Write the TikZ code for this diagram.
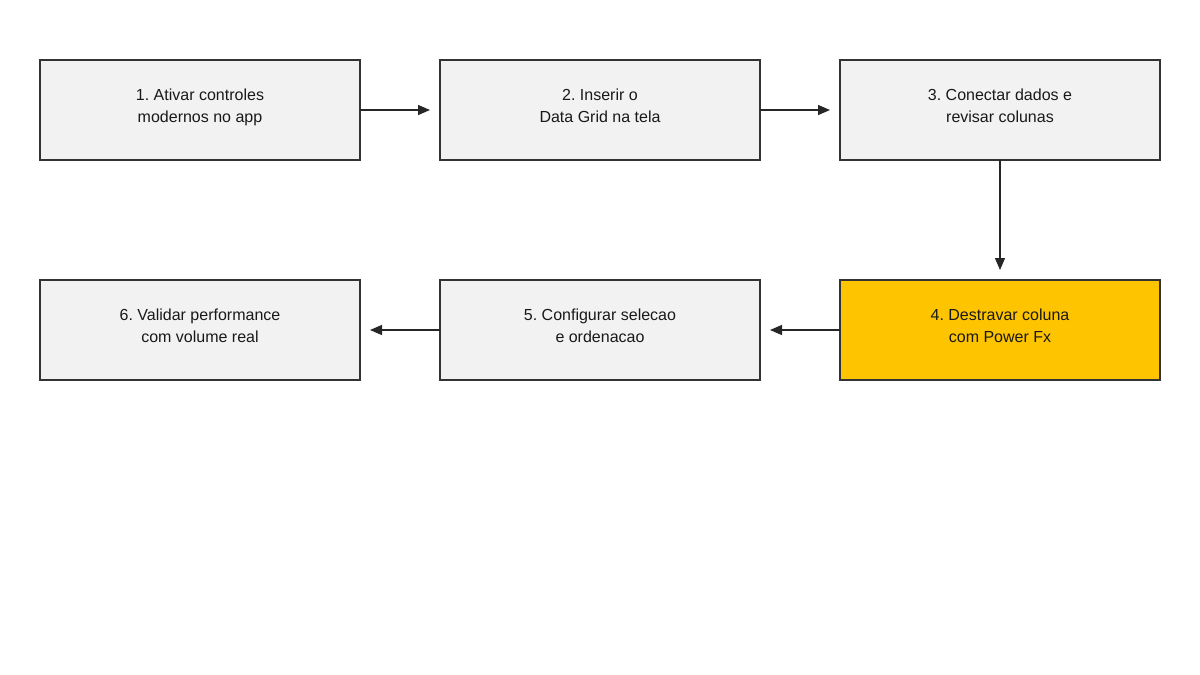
\documentclass[tikz,border=0pt]{standalone}
\usepackage{fontspec}
\setmainfont{Liberation Sans}
\usepackage{tikz}
\usetikzlibrary{positioning,arrows.meta}
\definecolor{boxgray}{HTML}{F2F2F2}
\definecolor{boxyellow}{HTML}{FFC400}
\definecolor{edgegray}{HTML}{333333}
\frenchspacing
\newcommand{\steptext}[2]{\raisebox{-1pt}[0pt][0pt]{\begin{tabular}{@{}c@{}}#1\\#2\end{tabular}}}
\tikzset{
	stepbox/.style={draw=edgegray, line width=1.3pt, fill=boxgray, minimum width=320pt, minimum height=100pt, align=center, font=\fontsize{16}{22}\selectfont, text=black!90, inner sep=0pt, outer sep=0pt},
	hotbox/.style={stepbox, fill=boxyellow},
	flow/.style={-{Triangle[length=12pt,width=10pt]}, line width=1.3pt, draw=black!85, shorten >=10pt}
}
\begin{document}
\begin{tikzpicture}[x=1pt,y=1pt, node distance=80pt]
		\useasboundingbox (0,0) rectangle (1200,-675);
		\coordinate (START) at (200,-110);

		\node[stepbox] (s1) at (START) {\steptext{1. Ativar controles}{modernos no app}};
		\node[stepbox, right=of s1] (s2) {\steptext{2. Inserir o}{Data Grid na tela}};
		\node[stepbox, right=of s2] (s3) {\steptext{3. Conectar dados e}{revisar colunas}};
		\node[hotbox, below=120pt of s3] (s4) {\steptext{4. Destravar coluna}{com Power Fx}};
		\node[stepbox, left=of s4] (s5) {\steptext{5. Configurar selecao}{e ordenacao}};
		\node[stepbox, left=of s5] (s6) {\steptext{6. Validar performance}{com volume real}};

		\draw[flow] (s1) -- (s2);
		\draw[flow] (s2) -- (s3);
		\draw[flow] (s3) -- (s4);
		\draw[flow] (s4) -- (s5);
		\draw[flow] (s5) -- (s6);
	\end{tikzpicture}
\end{document}
